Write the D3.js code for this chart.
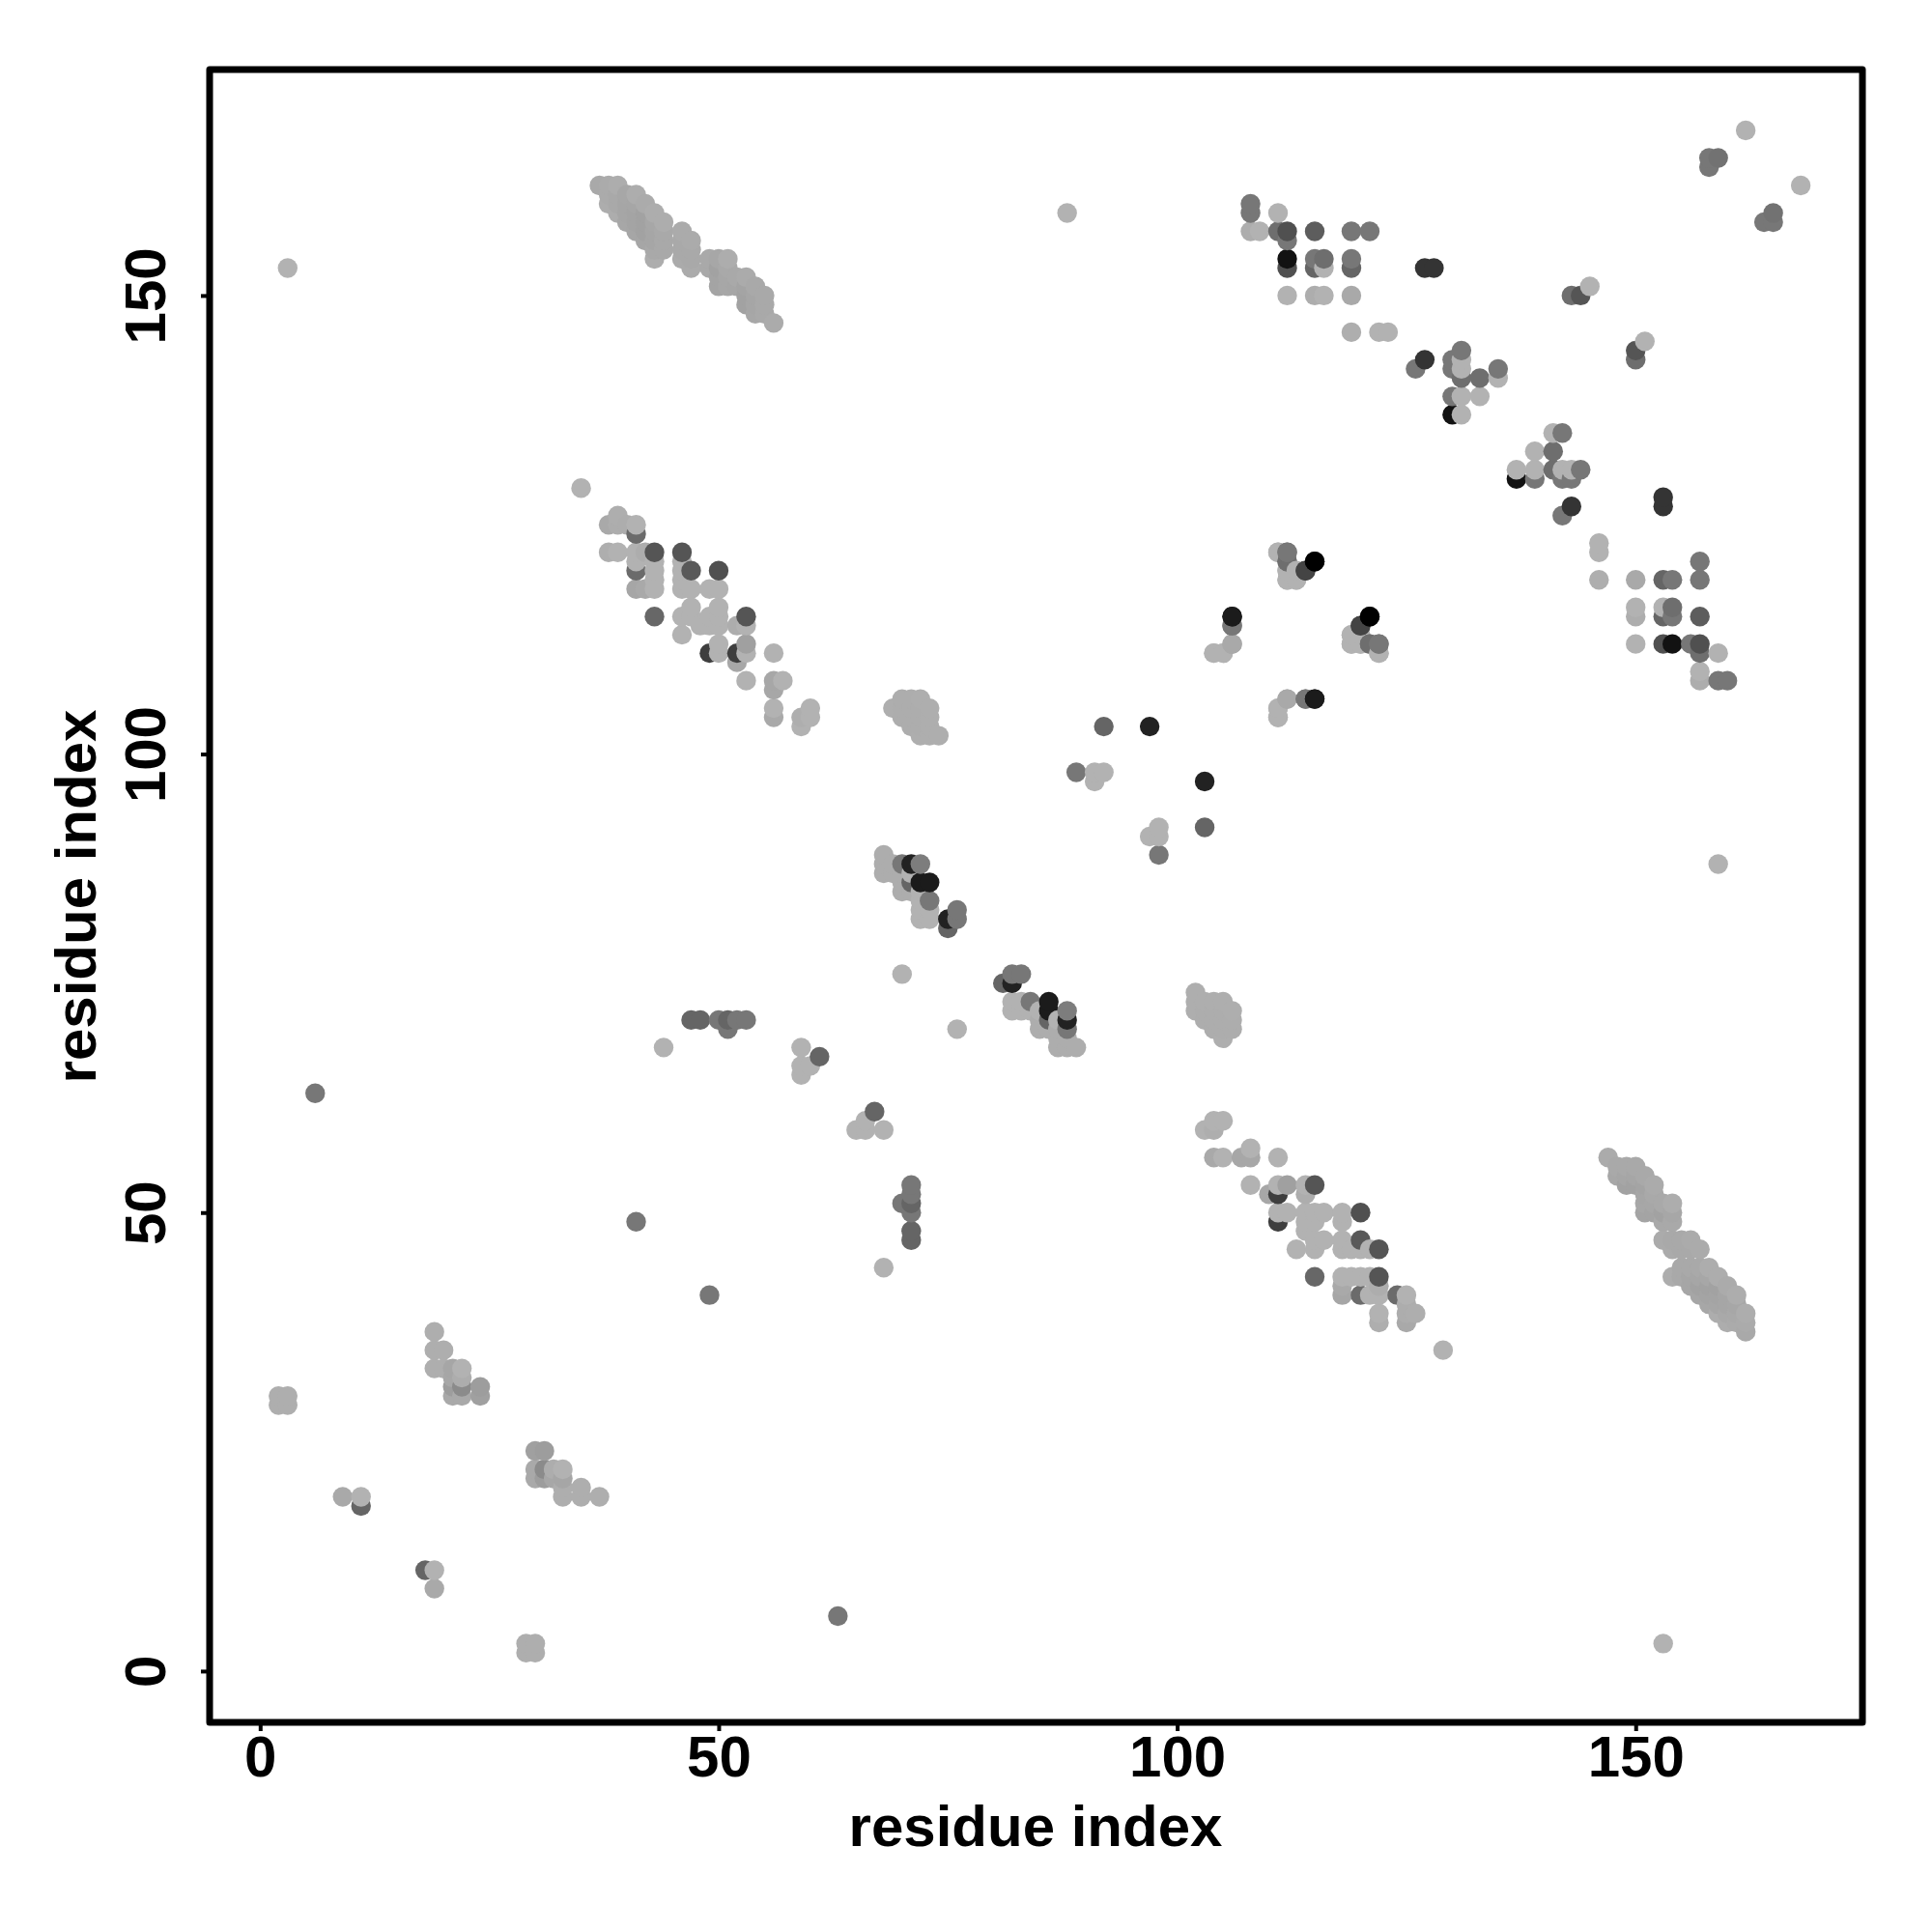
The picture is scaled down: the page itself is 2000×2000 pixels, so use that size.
<!DOCTYPE html>
<html>
<head>
<meta charset="utf-8">
<script src="https://cdn.jsdelivr.net/npm/d3@7/dist/d3.min.js"></script>
<style>
html,body{margin:0;padding:0;background:#fff}
svg{display:block}
text{font-family:"Liberation Sans",Arial,sans-serif;font-weight:700;fill:#000}
</style>
</head>
<body>
<svg id="c" width="2000" height="2000"></svg>
<script>
// contacts as [residue i, residue j, score]; the map is symmetric, each pair i<j is drawn twice
const strandPairA = [
[37,162,.05],[38,160,.03],[38,161,.04],[38,162,.04],[39,159,.03],[39,160,.05],[39,161,.05],[39,162,.03],
[40,158,.06],[40,159,.07],[40,160,.07],[40,161,.06],[41,157,.07],[41,158,.08],[41,159,.08],[41,160,.07],[41,161,.03],
[42,156,.07],[42,157,.09],[42,158,.09],[42,159,.09],[42,160,.04],
[43,154,.03],[43,155,.05],[43,156,.07],[43,157,.07],[43,158,.06],[43,159,.03],
[44,155,.05],[44,156,.05],[44,157,.05],[44,158,.03],
[46,154,.04],[46,155,.05],[46,156,.05],[46,157,.04],[47,153,.04],[47,154,.05],[47,155,.05],[47,156,.04],
[49,153,.05],[49,154,.05],[50,151,.08],[50,152,.08],[50,153,.09],[50,154,.06],[51,151,.06],[51,152,.06],[51,153,.05],[51,154,.03],
[52,151,.07],[52,152,.05],[53,149,.09],[53,150,.09],[53,151,.08],[53,152,.04],
[54,148,.06],[54,149,.07],[54,150,.07],[54,151,.05],[55,148,.05],[55,149,.05],[55,150,.05],[56,147,.04]
];
const strandPairB = [
[35,129,0],[38,125,.05],[39,126,.02],[39,125,.03],[40,125,.03],[41,125,0],[41,124,.4],
[38,122,.02],[39,122,0],[41,122,0],[42,122,.03],[43,122,.52],[46,122,.52],
[41,121,0],[43,121,0],[46,121,0],[41,120,.4],[43,120,0],[46,120,0],[47,120,.5],[50,120,.55],
[43,119,0],[46,119,0],[41,118,.07],[42,118,.05],[43,118,0],[46,118,0],[47,118,0],[49,118,0],[50,118,0],
[43,115,.42],[46,115,0],[47,116,0],[47,115,0],[49,115,0],[50,116,0],[50,115,0],[53,115,.52],
[48,114,0],[49,114,0],[50,114,0],[52,114,.03],[53,114,0],[46,113,0],[50,112,0],[53,112,.1],
[49,111,.65],[50,111,0],[52,111,.65],[53,111,0],[56,111,0],[52,110,.06],[53,108,0],[56,108,.06],[57,108,0],
[56,107,.06],[56,105,0],[60,105,0],[56,104,.05],[59,104,.02],[60,104,0],[59,103,0]
];
const helixPairC = [
[68,87,.03],[68,88,.03],[68,89,.03],[69,87,.03],[69,88,.03],
[70,85,.03],[70,86,.03],[70,87,.03],[70,88,.33],
[71,85,.03],[71,86,.43],[71,87,0],[71,88,.81],
[72,82,0],[72,83,0],[72,84,0],[72,85,0],[72,86,.85],[72,88,.3],
[73,82,0],[73,83,0],[73,84,.33],[73,86,.85],[75,81,.43],[75,82,.81],[76,82,.33],[76,83,.33]
];
const helixPairD = [
[69,105,.02],[70,104,.03],[70,105,.03],[70,106,.03],[71,103,.03],[71,104,.03],[71,105,.03],[71,106,.03],
[72,102,.02],[72,103,.03],[72,104,.03],[72,105,.03],[72,106,.02],[73,102,.02],[73,103,.02],[73,104,.02],[73,105,.02],[74,102,.02]
];
const upperPatch = [
[108,159,.33],[108,160,.33],[108,157,.03],[109,157,0],[111,159,0],[111,157,.38],[112,157,.55],[112,156,.33],
[115,157,.48],[119,157,.33],[121,157,.33],[112,154,.9],[115,154,.33],[116,154,.38],[119,154,.33],
[112,153,.55],[115,153,.43],[116,153,0],[119,153,.43],[127,153,.71],[128,153,.71],
[112,150,0],[115,150,.03],[116,150,0],[119,150,.05],[143,150,.38],[144,150,.52],[145,151,0],
[119,146,.02],[122,146,0],[123,146,0],[126,142,.33],[127,143,.71],
[131,144,.33],[130,143,.33],[131,143,0],[130,142,.33],[131,142,0],[131,141,.38],[133,141,.38],[135,142,.33],[135,141,0],
[130,139,.33],[131,139,0],[133,139,0],[130,137,.9],[131,137,0]
];
const middlePatch = [
[111,122,.02],[112,122,.33],[112,121,.35],[112,120,0],[112,119,0],[113,120,0],[113,119,0],[114,120,.62],[115,121,1],
[106,115,.85],[106,114,.33],[106,112,.06],[105,111,0],[104,111,0],
[121,115,1],[120,114,.62],[119,113,0],[119,112,0],[120,112,0],[121,112,.38],[122,112,.33],[122,111,0],
[115,106,.85],[114,106,.33],[112,106,.05],[111,105,0],[111,104,0],
[92,103,.43],[97,103,.81],[89,98,.33],[91,98,0],[92,98,0],[91,97,0]
];
const lowerPatch = [
[19,37,.02],[19,35,.02],[20,35,.02],[19,33,.02],[20,33,.02],[21,33,.07],[22,33,0],[21,32,.06],[22,32,.03],
[21,31,.12],[22,31,.22],[21,30,.05],[22,30,.05],[24,31,.12],[24,30,.1],
[2,30,.02],[3,30,.02],[2,29,.02],[3,29,.02],[9,19,.05],[11,19,0],[11,18,.43]
];
const isolated = [
[3,153,0],[6,63,.33],[41,49,.33],[44,68,0],[47,71,.43],[48,71,.43],[50,71,.33],[51,71,.43],[52,71,.33],[53,71,.33],[51,70,.33],
[59,68,0],[59,66,0],[59,65,0],[60,66,0],[61,67,.43],
[88,159,0],[70,76,0],[158,165,.33],[159,165,.36],[158,164,.33],[162,168,0]
];

const xTicks = [0,50,100,150];
const yTicks = [0,50,100,150];
const xTitle = "residue index";
const yTitle = "residue index";

const pairs = [].concat(strandPairA,strandPairB,helixPairC,helixPairD,upperPatch,middlePatch,lowerPatch,isolated);
const points = pairs.flatMap(d => [{x:d[0],y:d[1],s:d[2]},{x:d[1],y:d[0],s:d[2]}])
  .sort((a,b) => d3.ascending(a.x,b.x) || d3.ascending(a.y,b.y));

const svg = d3.select("#c");
const x = d3.scaleLinear().domain([-5.51,174.73]).range([217,1928]);
const y = d3.scaleLinear().domain([-5.594,174.64]).range([1783,72]);
const grey = d3.scaleLinear().domain([0,1]).range(["#b2b2b2","#000000"]);

svg.append("g").selectAll("circle").data(points).join("circle")
  .attr("cx",d=>x(d.x)).attr("cy",d=>y(d.y)).attr("r",10.2).attr("fill",d=>grey(d.s));

svg.append("rect").attr("x",217).attr("y",72).attr("width",1711).attr("height",1711)
  .attr("fill","none").attr("stroke","#000").attr("stroke-width",7).attr("stroke-linejoin","round");

const gx = svg.append("g").attr("transform","translate(0,1783)")
  .call(d3.axisBottom(x).tickValues(xTicks).tickSize(9).tickPadding(22).tickFormat(d3.format("d")));
const gy = svg.append("g").attr("transform","translate(217,0)")
  .call(d3.axisLeft(y).tickValues(yTicks).tickSize(9).tickFormat(d3.format("d")));
[gx,gy].forEach(g=>{
  g.select(".domain").remove();
  g.selectAll(".tick line").attr("stroke","#000").attr("stroke-width",4);
  g.selectAll("text").attr("font-size",60).attr("font-family","Liberation Sans").attr("font-weight",700).attr("fill","#000");
});
gy.selectAll(".tick text").attr("transform","rotate(-90)").attr("x",0).attr("y",-46).attr("dy",0).attr("text-anchor","middle");
gx.selectAll(".tick text").attr("dy",0).attr("y",56);

svg.append("text").attr("x",1072).attr("y",1911).attr("text-anchor","middle").attr("font-size",60).text(xTitle);
svg.append("text").attr("transform","translate(99,928) rotate(-90)").attr("text-anchor","middle").attr("font-size",60).text(yTitle);
</script>
</body>
</html>
